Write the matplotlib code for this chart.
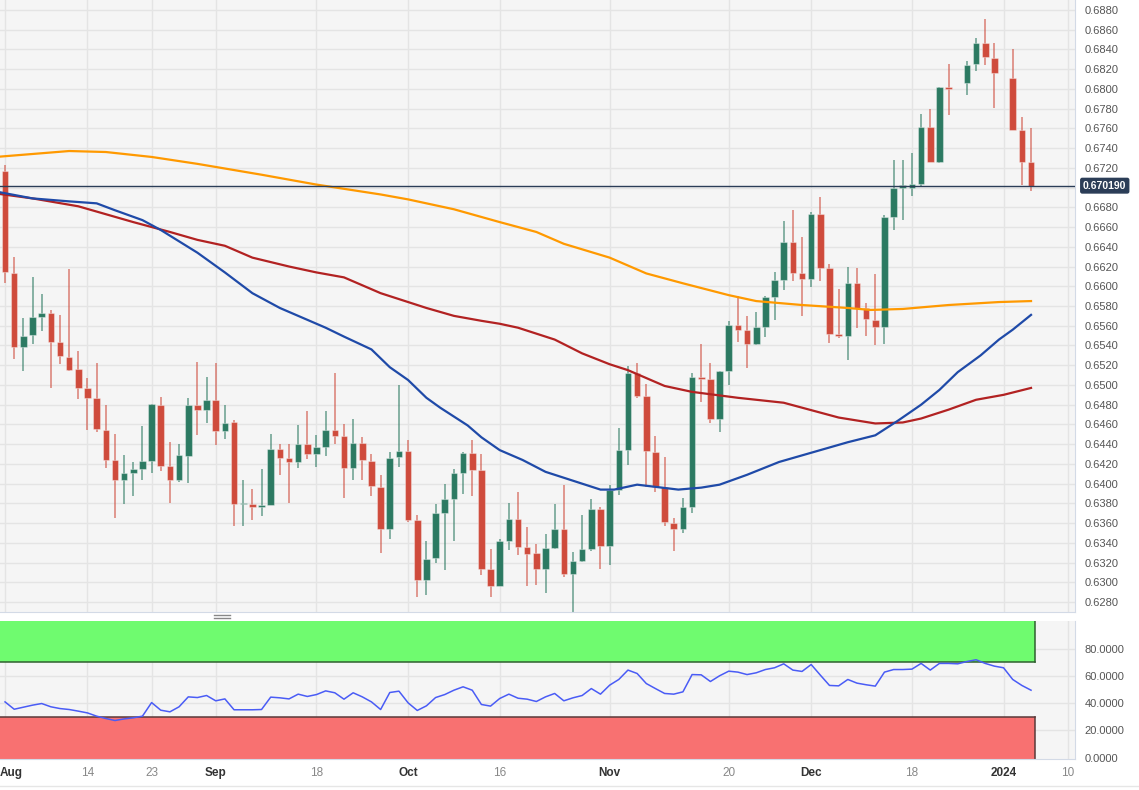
import matplotlib
matplotlib.use('Agg')
import matplotlib.pyplot as plt
import matplotlib.transforms as mtransforms
from matplotlib.lines import Line2D
from matplotlib.patches import Rectangle
import numpy as np
import pandas as pd

plt.rcParams['font.family'] = ['Liberation Sans', 'DejaVu Sans']

# ---------------- data ----------------
dates = pd.bdate_range('2023-08-01', '2024-01-04')

opens = [0.6717, 0.6613, 0.6538, 0.6551, 0.6569, 0.6573, 0.6544, 0.6528, 0.6516, 0.6497,
         0.6487, 0.6454, 0.6424, 0.6404, 0.6411, 0.6415, 0.6423, 0.6480, 0.6418, 0.6404,
         0.6428, 0.6480, 0.6475, 0.6485, 0.6453, 0.6462, 0.6379, 0.6379, 0.6376, 0.6378,
         0.6435, 0.6426, 0.6422, 0.6440, 0.6430, 0.6437, 0.6454, 0.6448, 0.6416, 0.6441,
         0.6423, 0.6397, 0.6354, 0.6427, 0.6433, 0.6363, 0.6302, 0.6325, 0.6370, 0.6384,
         0.6411, 0.6431, 0.6414, 0.6314, 0.6296, 0.6342, 0.6364, 0.6336, 0.6330, 0.6314,
         0.6335, 0.6354, 0.6308, 0.6322, 0.6334, 0.6374, 0.6337, 0.6394, 0.6434, 0.6512,
         0.6489, 0.6432, 0.6397, 0.6360, 0.6354, 0.6376, 0.6508, 0.6506, 0.6466, 0.6514,
         0.6561, 0.6556, 0.6541, 0.6559, 0.6589, 0.6606, 0.6645, 0.6613, 0.6607, 0.6673,
         0.6618, 0.6552, 0.6550, 0.6603, 0.6578, 0.6566, 0.6559, 0.6670, 0.6700, 0.6700,
         0.6704, 0.6761, 0.6726, 0.6802, 0.6799, 0.6806, 0.6825, 0.6846, 0.6831, 0.6811,
         0.6811, 0.6758, 0.6726]
highs = [0.6723, 0.6630, 0.6568, 0.6609, 0.6592, 0.6576, 0.6571, 0.6617, 0.6534, 0.6507,
         0.6522, 0.6480, 0.6450, 0.6429, 0.6422, 0.6458, 0.6481, 0.6488, 0.6442, 0.6440,
         0.6487, 0.6523, 0.6508, 0.6522, 0.6480, 0.6465, 0.6404, 0.6395, 0.6415, 0.6450,
         0.6440, 0.6440, 0.6459, 0.6474, 0.6449, 0.6474, 0.6512, 0.6460, 0.6466, 0.6447,
         0.6430, 0.6409, 0.6432, 0.6500, 0.6444, 0.6368, 0.6342, 0.6379, 0.6400, 0.6415,
         0.6432, 0.6444, 0.6430, 0.6334, 0.6344, 0.6380, 0.6392, 0.6356, 0.6339, 0.6349,
         0.6379, 0.6399, 0.6331, 0.6368, 0.6384, 0.6376, 0.6399, 0.6456, 0.6519, 0.6522,
         0.6501, 0.6448, 0.6427, 0.6365, 0.6385, 0.6512, 0.6542, 0.6522, 0.6514, 0.6565,
         0.6590, 0.6570, 0.6574, 0.6590, 0.6614, 0.6666, 0.6677, 0.6650, 0.6675, 0.6690,
         0.6623, 0.6597, 0.6620, 0.6619, 0.6583, 0.6612, 0.6672, 0.6728, 0.6728, 0.6735,
         0.6775, 0.6780, 0.6802, 0.6825, 0.6799, 0.6828, 0.6851, 0.6871, 0.6846, 0.6811,
         0.6840, 0.6771, 0.6760]
lows = [0.6603, 0.6526, 0.6514, 0.6542, 0.6555, 0.6497, 0.6521, 0.6514, 0.6486, 0.6454,
        0.6452, 0.6416, 0.6365, 0.6379, 0.6388, 0.6404, 0.6411, 0.6413, 0.6380, 0.6402,
        0.6401, 0.6449, 0.6461, 0.6439, 0.6445, 0.6357, 0.6357, 0.6363, 0.6367, 0.6378,
        0.6409, 0.6380, 0.6416, 0.6425, 0.6417, 0.6428, 0.6440, 0.6385, 0.6404, 0.6404,
        0.6388, 0.6330, 0.6344, 0.6417, 0.6361, 0.6285, 0.6287, 0.6320, 0.6313, 0.6342,
        0.6390, 0.6388, 0.6307, 0.6285, 0.6296, 0.6333, 0.6328, 0.6296, 0.6297, 0.6289,
        0.6334, 0.6305, 0.6270, 0.6321, 0.6332, 0.6314, 0.6318, 0.6389, 0.6419, 0.6487,
        0.6397, 0.6392, 0.6357, 0.6332, 0.6350, 0.6370, 0.6483, 0.6461, 0.6452, 0.6500,
        0.6544, 0.6517, 0.6540, 0.6549, 0.6566, 0.6596, 0.6605, 0.6570, 0.6599, 0.6605,
        0.6543, 0.6548, 0.6525, 0.6558, 0.6550, 0.6540, 0.6542, 0.6657, 0.6667, 0.6691,
        0.6701, 0.6726, 0.6725, 0.6774, 0.6799, 0.6794, 0.6818, 0.6824, 0.6781, 0.6811,
        0.6758, 0.6703, 0.6697]
closes = [0.6614, 0.6538, 0.6550, 0.6569, 0.6573, 0.6544, 0.6529, 0.6515, 0.6497, 0.6487,
          0.6455, 0.6424, 0.6404, 0.6411, 0.6415, 0.6423, 0.6481, 0.6418, 0.6404, 0.6429,
          0.6480, 0.6475, 0.6485, 0.6453, 0.6461, 0.6379, 0.6380, 0.6376, 0.6378, 0.6435,
          0.6426, 0.6422, 0.6440, 0.6430, 0.6437, 0.6454, 0.6448, 0.6416, 0.6441, 0.6424,
          0.6398, 0.6354, 0.6426, 0.6433, 0.6363, 0.6302, 0.6324, 0.6370, 0.6384, 0.6411,
          0.6431, 0.6414, 0.6314, 0.6296, 0.6342, 0.6364, 0.6336, 0.6329, 0.6314, 0.6335,
          0.6354, 0.6308, 0.6322, 0.6334, 0.6374, 0.6337, 0.6394, 0.6434, 0.6512, 0.6489,
          0.6433, 0.6397, 0.6361, 0.6354, 0.6376, 0.6508, 0.6506, 0.6466, 0.6514, 0.6561,
          0.6556, 0.6541, 0.6559, 0.6589, 0.6606, 0.6645, 0.6613, 0.6607, 0.6673, 0.6618,
          0.6552, 0.6550, 0.6603, 0.6578, 0.6567, 0.6559, 0.6670, 0.6700, 0.6703, 0.6704,
          0.6761, 0.6726, 0.6802, 0.6800, 0.6799, 0.6824, 0.6846, 0.6832, 0.6816, 0.6811,
          0.6758, 0.6726, 0.6702]

last_price = 0.670190

# moving averages (trading-day number, value)
ma_blue_day = [-1, 3, 7, 10, 12, 15, 17, 21, 24, 27, 30, 32, 35, 37, 40, 42, 44, 46, 47.5,
               50.5, 52, 54, 56.5, 59, 63, 65, 66.5, 69, 73.5, 76, 78, 81, 84.5, 89, 92, 95,
               97.5, 100, 102, 104, 106.5, 108.5, 110, 112]
ma_blue_val = [0.6696, 0.6689, 0.6686, 0.6684, 0.6677, 0.6667, 0.6657, 0.6634, 0.6614, 0.6593,
               0.6578, 0.6570, 0.6558, 0.6549, 0.6536, 0.6518, 0.6505, 0.6487, 0.6477,
               0.6459, 0.6447, 0.6434, 0.6424, 0.6412, 0.6400, 0.6394, 0.6394, 0.6399, 0.6394,
               0.6396, 0.6399, 0.6409, 0.6422, 0.6434, 0.6442, 0.6449, 0.6464, 0.6480, 0.6495,
               0.6513, 0.6530, 0.6546, 0.6556, 0.6571]
ma_red_day = [-1, 3, 8, 14, 18, 21, 24, 27, 31, 34, 37, 41, 43, 46, 49, 52, 54, 56, 60, 63,
              66, 68, 70, 72, 75, 80, 85, 87, 91, 95, 98, 100, 103, 106, 109, 112]
ma_red_val = [0.6694, 0.6689, 0.6681, 0.6665, 0.6655, 0.6647, 0.6641, 0.6629, 0.6620, 0.6614,
              0.6609, 0.6593, 0.6587, 0.6578, 0.6570, 0.6565, 0.6562, 0.6558, 0.6546, 0.6532,
              0.6521, 0.6515, 0.6507, 0.6499, 0.6493, 0.6487, 0.6482, 0.6477, 0.6467, 0.6461,
              0.6462, 0.6466, 0.6475, 0.6485, 0.6490, 0.6497]
ma_orange_day = [-1, 7, 11, 16, 21, 28, 34, 41, 44, 49, 54, 58, 61, 66, 70, 74, 79, 82, 87,
                 92, 94.5, 98, 103, 108.5, 112]
ma_orange_val = [0.6731, 0.6737, 0.6736, 0.6731, 0.6724, 0.6713, 0.6703, 0.6693, 0.6688,
                 0.6678, 0.6665, 0.6655, 0.6643, 0.6629, 0.6613, 0.6603, 0.6591, 0.6585,
                 0.6581, 0.6578, 0.6576, 0.6577, 0.6581, 0.6584, 0.6585]

rsi = [41.0, 35.6, 37.1, 38.6, 39.8, 37.4, 36.1, 35.4, 34.2, 32.9,
       30.5, 28.8, 27.3, 28.5, 29.3, 30.5, 40.5, 34.9, 33.7, 37.4,
       44.7, 44.2, 45.7, 41.8, 43.2, 35.2, 35.2, 35.2, 35.4, 44.5,
       44.0, 43.2, 46.7, 45.0, 46.4, 49.1, 47.7, 43.0, 47.7, 44.7,
       41.0, 35.4, 47.9, 48.9, 40.3, 34.7, 38.1, 44.2, 46.4, 49.6,
       52.1, 49.6, 39.1, 37.9, 43.5, 46.7, 43.7, 43.0, 41.3, 44.7,
       47.2, 41.8, 44.0, 45.7, 50.8, 46.7, 53.3, 57.5, 64.4, 61.9,
       54.5, 50.8, 47.2, 46.7, 48.4, 61.1, 60.9, 56.0, 60.2, 63.6,
       62.9, 61.1, 62.4, 64.8, 66.1, 69.0, 64.4, 63.4, 68.5, 60.7,
       53.1, 52.8, 57.5, 54.8, 53.6, 52.6, 62.9, 64.8, 64.8, 65.1,
       69.3, 64.4, 69.3, 69.3, 69.0, 70.7, 72.0, 69.3, 67.3, 66.1,
       57.5, 53.1, 49.6]
rsi_upper = 70
rsi_lower = 30

price_ticks = [0.6280, 0.6300, 0.6320, 0.6340, 0.6360, 0.6380, 0.6400, 0.6420, 0.6440,
               0.6460, 0.6480, 0.6500, 0.6520, 0.6540, 0.6560, 0.6580, 0.6600, 0.6620,
               0.6640, 0.6660, 0.6680, 0.6700, 0.6720, 0.6740, 0.6760, 0.6780, 0.6800,
               0.6820, 0.6840, 0.6860, 0.6880]
rsi_ticks = [0, 20, 40, 60, 80]
tick_dates = ['2023-08-01', '2023-08-14', '2023-08-23', '2023-09-01', '2023-09-18',
              '2023-10-02', '2023-10-16', '2023-11-01', '2023-11-20', '2023-12-01',
              '2023-12-18', '2024-01-01', '2024-01-10']
tick_labels = ['Aug', '14', '23', 'Sep', '18', 'Oct', '16', 'Nov', '20', 'Dec', '18', '2024', '10']

# ---------------- style ----------------
UP = '#2c7a62'
DOWN = '#cf4b3c'
BG = '#f5f5f5'
GRID = '#e4e4e4'
NAVY = '#2b3d57'
BORDER = '#d3dae6'

W, H = 1139, 790
fig = plt.figure(figsize=(W / 100, H / 100), dpi=100, facecolor='white')

def fr(x0, y0, x1, y1):
    return [x0 / W, 1 - y1 / H, (x1 - x0) / W, (y1 - y0) / H]

ax = fig.add_axes(fr(0, 0, 1075, 612))
axr = fig.add_axes(fr(0, 621, 1075, 759), sharex=ax)

x = np.arange(len(dates))
o = np.array(opens); h = np.array(highs); l = np.array(lows); c = np.array(closes)
up = c >= o
flat = np.isclose(o, c) & np.isclose(h, l)
col = np.where(up, UP, DOWN)

for a in (ax, axr):
    a.set_facecolor(BG)
    for s in ('left', 'top'):
        a.spines[s].set_visible(False)
    for s in ('right', 'bottom'):
        a.spines[s].set_color(BORDER)
    a.yaxis.tick_right()
    a.tick_params(axis='both', length=0, labelsize=8, colors='#555555')
    a.set_axisbelow(True)

tick_pos = [int(np.busday_count('2023-08-01', d)) for d in tick_dates]

# grid
for tp in tick_pos:
    ax.axvline(tp, color=GRID, lw=1, zorder=0)
    axr.axvline(tp, color=GRID, lw=1, zorder=0)
for pt in price_ticks:
    ax.axhline(pt, color=GRID, lw=1, zorder=0)
for rt in rsi_ticks[1:]:
    axr.axhline(rt, color=GRID, lw=1, zorder=0)

# candles
wick_cols = [(UP if u else DOWN) for u in up]
ax.vlines(x[~flat], l[~flat], h[~flat], colors=[wick_cols[i] for i in x[~flat]],
          lw=1.1, alpha=0.7, zorder=2)
body_b = np.minimum(o, c)
body_h = np.maximum(np.abs(c - o), 0.00006)
ax.bar(x[~flat], body_h[~flat], bottom=body_b[~flat], width=0.72,
       color=col[~flat], edgecolor=[(1, 1, 1, 0.35)] * int((~flat).sum()),
       linewidth=0.8, zorder=3)
ax.bar(x[flat], 0.00005, bottom=o[flat] - 0.000025, width=0.8, color='#222222', zorder=3)

# moving averages
ax.plot(ma_orange_day, ma_orange_val, color='#ff9900', lw=1.6, zorder=4)
ax.plot(ma_red_day, ma_red_val, color='#b22222', lw=1.6, zorder=4)
ax.plot(ma_blue_day, ma_blue_val, color='#1f4aa8', lw=1.6, zorder=4)

# last price
ax.axhline(last_price, color=NAVY, lw=1, zorder=5)
trans = mtransforms.blended_transform_factory(ax.transAxes, ax.transData)
ax.text(1.0075, last_price, f'{last_price:.6f}', transform=trans, va='center', ha='left',
        fontsize=7.5, fontweight='bold', color='white', clip_on=False, zorder=6,
        bbox=dict(boxstyle='round,pad=0.22,rounding_size=0.15', fc=NAVY, ec=NAVY))

ax.set_ylim(0.6270, 0.6890)
ax.set_yticks(price_ticks)
# the 0.6700 label sits under the last-price badge in the reference
ax.set_yticklabels(['' if abs(p - last_price) < 0.0008 else f'{p:.4f}' for p in price_ticks])
ax.tick_params(axis='y', pad=7)
ax.tick_params(axis='x', labelbottom=False)
ax.set_xlim(-0.55, 116.8)

# RSI panel
band_end = len(dates) - 1 + 0.45
axr.add_patch(Rectangle((-0.55, rsi_upper), band_end + 0.55, 100.5 - rsi_upper,
                        fc='#6ffb6f', ec='none', zorder=1))
axr.add_patch(Rectangle((-0.55, -1), band_end + 0.55, rsi_lower + 1,
                        fc='#f87171', ec='none', zorder=1))
axr.plot([-0.55, band_end], [rsi_upper, rsi_upper], color='#2f5f2f', lw=1.1, zorder=2)
axr.plot([-0.55, band_end], [rsi_lower, rsi_lower], color='#5a3a3a', lw=1.1, zorder=2)
axr.plot([band_end, band_end], [rsi_upper, 100.5], color='#2f5f2f', lw=1.1, zorder=2)
axr.plot([band_end, band_end], [-1, rsi_lower], color='#5a3a3a', lw=1.1, zorder=2)
axr.plot(x, rsi, color='#4a5cf5', lw=1.1, zorder=3)
axr.set_ylim(-1, 100.5)
axr.set_yticks(rsi_ticks)
axr.set_yticklabels([f'{v:.4f}' for v in rsi_ticks])
axr.tick_params(axis='y', pad=7)

axr.set_xticks(tick_pos)
axr.set_xticklabels(tick_labels)
axr.tick_params(axis='x', pad=6, labelsize=8.5)
for i, lab in enumerate(axr.get_xticklabels()):
    if lab.get_text().isdigit() and lab.get_text() != '2024':
        lab.set_color('#888888')
    else:
        lab.set_color('#333333')
        lab.set_fontweight('bold')
    if i == 0:
        lab.set_ha('left')
        lab.set_transform(lab.get_transform() +
                          mtransforms.ScaledTranslation(-5 / 100, 0, fig.dpi_scale_trans))

# panel separator handle and bottom rule
fig.add_artist(Line2D([214 / W, 230 / W], [1 - 615 / H] * 2, color='#888888', lw=1))
fig.add_artist(Line2D([214 / W, 230 / W], [1 - 618 / H] * 2, color='#888888', lw=1))
fig.add_artist(Line2D([0, 1], [1 - 786 / H] * 2, color='#e6e6e6', lw=1))

fig.savefig('out.png', dpi=100, facecolor='white')
